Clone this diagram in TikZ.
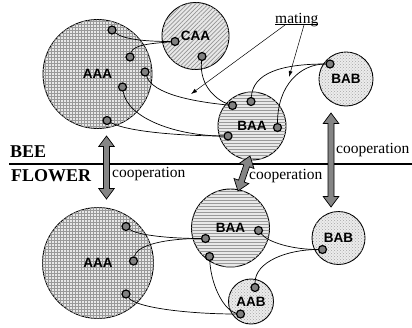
\documentclass[tikz,border=0pt]{standalone}
\usepackage{fontspec}
\setmainfont{Liberation Serif}
\newfontfamily\tagfont{Liberation Sans}
\usetikzlibrary{patterns,patterns.meta,arrows.meta}

% fat double-headed cooperation arrow: centre, angle, half length
\newcommand\coopArrow[3]{%
  \begin{scope}[shift={#1}, rotate=#2]
    \draw[fatarrow] (-#3,0) -- (-#3+10.5,7.8) -- (-#3+10.5,3) -- (#3-10.5,3)
      -- (#3-10.5,7.8) -- (#3,0) -- (#3-10.5,-7.8) -- (#3-10.5,-3)
      -- (-#3+10.5,-3) -- (-#3+10.5,-7.8) -- cycle;
  \end{scope}}

\begin{document}
\begin{tikzpicture}[x=1pt,y=-1pt,
  ring/.style={circle, draw, line width=0.9pt, inner sep=0pt, minimum size=#1,
    font=\tagfont\bfseries\fontsize{13.5}{14}\selectfont},
  gridring/.style={ring=#1, fill=gray!18, postaction={pattern=grid, pattern color=gray!80}},
  slashring/.style={ring=#1, fill=gray!18,
    postaction={pattern={Lines[angle=45, distance=3pt, line width=0.7pt]}, pattern color=gray!85}},
  stripering/.style={ring=#1, fill=gray!18, postaction={pattern=horizontal lines, pattern color=gray!80}},
  dotring/.style={ring=#1, fill=gray!15, postaction={pattern=crosshatch dots, pattern color=gray!70}},
  dot/.style={circle, draw, line width=1.2pt, fill=black!50, minimum size=8pt, inner sep=0pt},
  link/.style={line width=0.7pt},
  fatarrow/.style={draw, line width=0.7pt, fill=black!48},
  side/.style={anchor=base west, inner sep=0pt, font=\bfseries\fontsize{18}{20}\selectfont},
  note/.style={anchor=base west, inner sep=0pt, font=\fontsize{15.5}{17}\selectfont},
  pointer/.style={line width=0.5pt, -{Latex[length=6pt,width=4pt]}}
]
\useasboundingbox (0,0) rectangle (412,327);

% ---------- bee populations ----------
\node[gridring=109pt]  (aaaT) at (97.5,74)  {AAA};
\node[slashring=67pt]  (caa)  at (195.5,36) {CAA};
\node[dotring=54pt]    (babT) at (346,79)   {BAB};
\node[stripering=68pt] (baaT) at (252,126)  {BAA};

% ---------- flower populations ----------
\node[gridring=111pt]  (aaaB) at (98,263)    {AAA};
\node[stripering=78pt] (baaB) at (230.5,228) {BAA};
\node[dotring=53pt]    (babB) at (338.5,238) {BAB};
\node[dotring=45pt]    (aab)  at (251,301.5) {AAB};

% ---------- individuals ----------
\node[dot] (a1) at (112,30) {};
\node[dot] (a2) at (130,57) {};
\node[dot] (a3) at (145,72) {};
\node[dot] (a4) at (122.5,87) {};
\node[dot] (a5) at (107,120.5) {};
\node[dot] (c1) at (175,41.5) {};
\node[dot] (c2) at (202,56.5) {};
\node[dot] (b1) at (232.5,105.5) {};
\node[dot] (b2) at (251,101.5) {};
\node[dot] (b3) at (277.5,127.5) {};
\node[dot] (b4) at (228,136) {};
\node[dot] (r1) at (330,64) {};

\node[dot] (e1) at (126,226.5) {};
\node[dot] (e2) at (133.5,261) {};
\node[dot] (e3) at (126,294) {};
\node[dot] (f1) at (205.5,238.5) {};
\node[dot] (f2) at (209.5,256.5) {};
\node[dot] (f3) at (258.5,230.5) {};
\node[dot] (g1) at (322.5,249.5) {};
\node[dot] (h1) at (255,287.5) {};
\node[dot] (h2) at (240.5,314) {};

% ---------- mating links (bee side) ----------
\draw[link] (a1) .. controls +(12,10) and +(-25,0) .. (c1);
\draw[link] (a2) .. controls +(3,-12) and +(-25,2) .. (c1);
\draw[link] (a3) .. controls +(8,22) and +(-40,-4) .. (b1);
\draw[link] (c2) .. controls +(-3,30) and +(-15,-5) .. (b1);
\draw[link] (a4) .. controls +(5,32) and +(-50,0) .. (b4);
\draw[link] (a5) .. controls +(22,12) and +(-40,0) .. (b4);
\draw[link] (b2) .. controls +(2,-28) and +(-50,0) .. (r1);
\draw[link] (b3) .. controls +(0,-42) and +(-30,0) .. (r1);

% ---------- links (flower side) ----------
\draw[link] (e1) .. controls +(10,8) and +(-40,0) .. (f1);
\draw[link] (e2) .. controls +(3,-16) and +(-40,0) .. (f1);
\draw[link] (e3) .. controls +(10,14) and +(-50,0) .. (h2);
\draw[link] (f2) .. controls +(2,32) and +(-15,-3) .. (h2);
\draw[link] (f3) .. controls +(10,12) and +(-30,0) .. (g1);
\draw[link] (h1) .. controls +(0,-26) and +(-35,0) .. (g1);

% ---------- mating label ----------
\node[note] (mat) at (275,23) {mating};
\draw[line width=0.6pt] ([yshift=-1.5pt]mat.base west) -- ([yshift=-1.5pt]mat.base east);
\coordinate (m1) at (285,25);
\coordinate (m2) at (304,25);
\coordinate (t1) at (191,94);
\coordinate (t2) at (289,77);
\draw[pointer] (m1) -- (t1);
\draw[pointer] (m2) -- (t2);

% ---------- separator ----------
\coordinate (sepL) at (9,164);
\coordinate (sepR) at (412,164);
\draw[line width=1.5pt] (sepL) -- (sepR);
\node[side] (bee) at (10,157) {BEE};
\node[side] (flower) at (11,181) {FLOWER};

% ---------- cooperation arrows ----------
\coopArrow{(106.5,167.5)}{90}{31.5}
\coopArrow{(244,173.5)}{71}{18.5}
\coopArrow{(331,160)}{90}{47}
\node[note] (coop1) at (112,177) {cooperation};
\node[note] (coop2) at (249,179) {cooperation};
\node[note] (coop3) at (336,153) {cooperation};
\end{tikzpicture}
\end{document}
